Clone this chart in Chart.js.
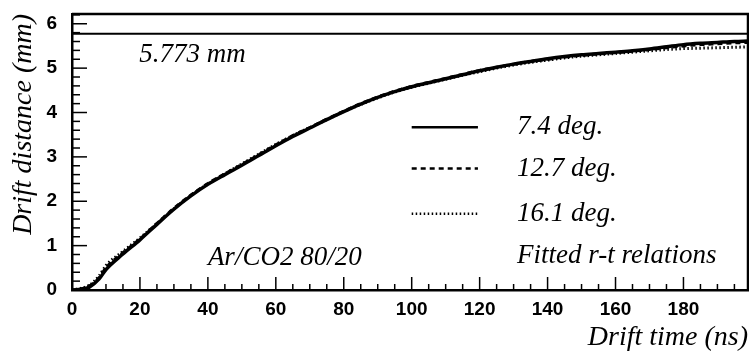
<!DOCTYPE html>
<html>
<head>
<meta charset="utf-8">
<script src="https://cdn.jsdelivr.net/npm/chart.js@4/dist/chart.umd.min.js"></script>
<style>
  html, body { margin: 0; padding: 0; background: #fff; }
  #wrap { width: 749px; height: 352px; }
</style>
</head>
<body>
<div id="wrap"><canvas id="rtChart"></canvas></div>
<script>
// drift time (ns)
const driftTime = [0, 2, 5, 8, 10, 15, 20, 25, 30, 35, 40, 45, 50, 55, 60, 65, 70, 75, 80, 85, 90,
  95, 100, 105, 110, 115, 120, 125, 130, 135, 140, 145, 150, 155, 160, 165, 170, 175, 180,
  185, 190, 195, 199];

// drift distance (mm) for the three track angles
const dist74 = [0, 0.01, 0.06, 0.25, 0.46, 0.81, 1.13, 1.48, 1.82, 2.12, 2.38, 2.6, 2.81, 3.03, 3.25,
  3.46, 3.65, 3.84, 4.02, 4.19, 4.34, 4.47, 4.58, 4.67, 4.76, 4.85, 4.94, 5.02, 5.09, 5.15,
  5.21, 5.26, 5.3, 5.33, 5.36, 5.39, 5.43, 5.48, 5.53, 5.56, 5.58, 5.6, 5.61];
const dist127 = [0, 0.02, 0.08, 0.28, 0.5, 0.84, 1.15, 1.5, 1.84, 2.14, 2.4, 2.62, 2.83, 3.05, 3.27,
  3.48, 3.66, 3.85, 4.03, 4.2, 4.35, 4.48, 4.59, 4.68, 4.77, 4.86, 4.95, 5.02, 5.09, 5.15,
  5.2, 5.25, 5.29, 5.32, 5.35, 5.38, 5.42, 5.46, 5.5, 5.53, 5.55, 5.57, 5.58];
const dist161 = [0, 0.03, 0.1, 0.32, 0.55, 0.87, 1.17, 1.5, 1.83, 2.13, 2.39, 2.62, 2.84, 3.06, 3.28,
  3.48, 3.66, 3.84, 4.02, 4.18, 4.33, 4.46, 4.57, 4.66, 4.75, 4.84, 4.92, 5.0, 5.07, 5.13,
  5.18, 5.23, 5.27, 5.3, 5.33, 5.36, 5.39, 5.42, 5.44, 5.45, 5.46, 5.47, 5.48];

const angleLabels = ["7.4 deg.", "12.7 deg.", "16.1 deg."];
const tubeRadius = 5.773;

const xTicks = [0, 20, 40, 60, 80, 100, 120, 140, 160, 180];
const yTicks = [0, 1, 2, 3, 4, 5, 6];

const toPoints = (ys) => driftTime.map((t, i) => ({ x: t, y: ys[i] }));

const serif = "'Liberation Serif', 'DejaVu Serif', serif";
const sans = "'Liberation Sans', Arial, sans-serif";

// inward ticks, frame, legend and notes
const decorations = {
  id: "decorations",
  afterDraw(chart) {
    const ctx = chart.ctx;
    const xs = chart.scales.x;
    const ys = chart.scales.y;
    const area = chart.chartArea;
    ctx.save();
    ctx.strokeStyle = "#000";

    // frame top and right
    ctx.lineWidth = 2.5;
    ctx.beginPath();
    ctx.moveTo(area.left, area.top);
    ctx.lineTo(area.right, area.top);
    ctx.lineTo(area.right, area.bottom);
    ctx.stroke();

    // x ticks every 5 ns
    ctx.lineWidth = 1.5;
    for (let t = 0; t <= 195; t += 5) {
      const px = xs.getPixelForValue(t);
      const len = t % 20 === 0 ? 13 : 6;
      ctx.beginPath();
      ctx.moveTo(px, area.bottom);
      ctx.lineTo(px, area.bottom - len);
      ctx.stroke();
    }
    // y ticks every 0.2 mm
    for (let k = 0; k <= 31; k++) {
      const py = ys.getPixelForValue(k * 0.2);
      const len = k % 5 === 0 ? 15 : 8;
      ctx.beginPath();
      ctx.moveTo(area.left, py);
      ctx.lineTo(area.left + len, py);
      ctx.stroke();
    }

    // legend
    const dashes = [[], [5, 4], [1.5, 2.5]];
    const rows = [3.67, 2.74, 1.72];
    ctx.font = "italic 27px " + serif;
    ctx.textBaseline = "middle";
    ctx.fillStyle = "#000";
    rows.forEach((r, i) => {
      const py = ys.getPixelForValue(r);
      ctx.setLineDash(dashes[i]);
      ctx.lineWidth = 2.5;
      ctx.beginPath();
      ctx.moveTo(xs.getPixelForValue(100), py);
      ctx.lineTo(xs.getPixelForValue(119.5), py);
      ctx.stroke();
      ctx.fillText(angleLabels[i], xs.getPixelForValue(131), py);
    });
    ctx.setLineDash([]);

    // notes
    ctx.fillText(tubeRadius.toFixed(3) + " mm", xs.getPixelForValue(19.8), ys.getPixelForValue(5.29));
    ctx.fillText("Ar/CO2 80/20", xs.getPixelForValue(40), ys.getPixelForValue(0.73));
    ctx.fillText("Fitted r-t relations", xs.getPixelForValue(131), ys.getPixelForValue(0.77));
    ctx.restore();
  }
};

new Chart(document.getElementById("rtChart"), {
  type: "line",
  data: {
    datasets: [
      {
        label: angleLabels[0],
        data: toPoints(dist74),
        borderColor: "#000",
        borderWidth: 3.5,
        pointRadius: 0,
        cubicInterpolationMode: "monotone"
      },
      {
        label: angleLabels[1],
        data: toPoints(dist127),
        borderColor: "#000",
        borderWidth: 3,
        borderDash: [5, 4],
        pointRadius: 0,
        cubicInterpolationMode: "monotone"
      },
      {
        label: angleLabels[2],
        data: toPoints(dist161),
        borderColor: "#000",
        borderWidth: 3,
        borderDash: [1.5, 2.5],
        pointRadius: 0,
        cubicInterpolationMode: "monotone"
      },
      {
        label: "radius",
        data: [{ x: 0, y: tubeRadius }, { x: 199, y: tubeRadius }],
        borderColor: "#000",
        borderWidth: 2,
        pointRadius: 0
      }
    ]
  },
  options: {
    responsive: true,
    maintainAspectRatio: false,
    animation: false,
    layout: { padding: { left: 2, right: 1, top: 14, bottom: 0 } },
    plugins: {
      legend: { display: false },
      tooltip: { enabled: false }
    },
    scales: {
      x: {
        type: "linear",
        min: 0,
        max: 199,
        afterFit(scale) { scale.height = 62; },
        afterBuildTicks(scale) { scale.ticks = xTicks.map((v) => ({ value: v })); },
        grid: { display: false, drawTicks: false },
        border: { display: true, color: "#000", width: 2.5 },
        ticks: {
          padding: 8,
          color: "#000",
          maxRotation: 0,
          font: { family: sans, size: 19, weight: "bold" }
        },
        title: {
          display: true,
          text: "Drift time (ns)",
          align: "end",
          color: "#000",
          padding: { top: 0, bottom: 0 },
          font: { family: serif, size: 28, style: "italic", lineHeight: 1.0 }
        }
      },
      y: {
        type: "linear",
        min: 0,
        max: 6.22,
        afterFit(scale) {
          scale.width = 70;
          scale.paddingTop = 0;
          scale.paddingBottom = 0;
        },
        afterBuildTicks(scale) { scale.ticks = yTicks.map((v) => ({ value: v })); },
        grid: { display: false, drawTicks: false },
        border: { display: true, color: "#000", width: 2.5 },
        ticks: {
          padding: 15,
          color: "#000",
          font: { family: sans, size: 19, weight: "bold" }
        },
        title: {
          display: true,
          text: "Drift distance (mm)",
          align: "end",
          color: "#000",
          padding: { top: 8, bottom: 0 },
          font: { family: serif, size: 28, style: "italic", lineHeight: 1.0 }
        }
      }
    }
  },
  plugins: [decorations]
});
</script>
</body>
</html>
